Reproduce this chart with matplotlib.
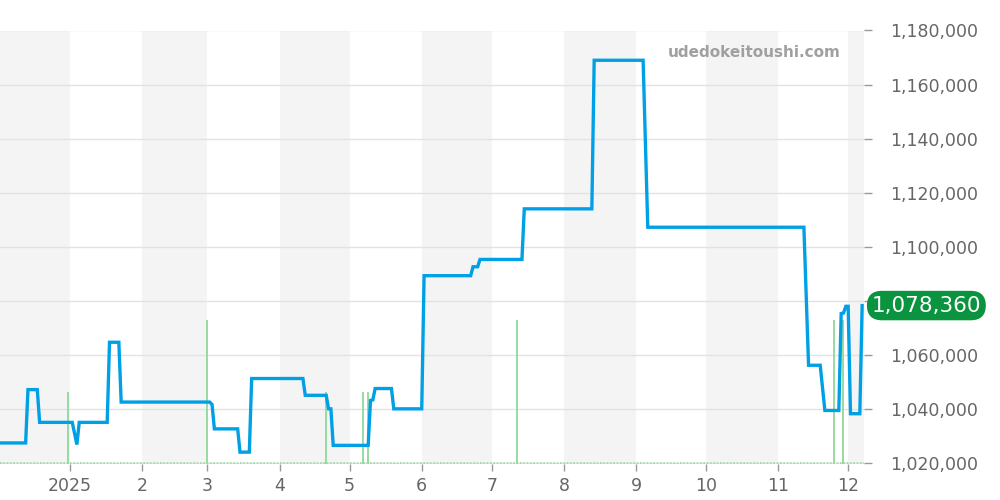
import matplotlib
matplotlib.use("Agg")
import matplotlib.pyplot as plt
import matplotlib.transforms as mtransforms
import numpy as np
import pandas as pd

# ---- data ----
price_dates = [
    "2024-12-02", "2024-12-13", "2024-12-14", "2024-12-18", "2024-12-19",
    "2025-01-02", "2025-01-04", "2025-01-05", "2025-01-17", "2025-01-18",
    "2025-01-22", "2025-01-23", "2025-03-02", "2025-03-03", "2025-03-04",
    "2025-03-14", "2025-03-15", "2025-03-19", "2025-03-20", "2025-04-11",
    "2025-04-12", "2025-04-21", "2025-04-22", "2025-04-23", "2025-04-24",
    "2025-05-09", "2025-05-10", "2025-05-11", "2025-05-12", "2025-05-19",
    "2025-05-20", "2025-06-01", "2025-06-02", "2025-06-22", "2025-06-23",
    "2025-06-25", "2025-06-26", "2025-07-14", "2025-07-15", "2025-08-13",
    "2025-08-14", "2025-09-04", "2025-09-06", "2025-11-12", "2025-11-14",
    "2025-11-19", "2025-11-21", "2025-11-27", "2025-11-28", "2025-11-29",
    "2025-11-30", "2025-12-01", "2025-12-02", "2025-12-06", "2025-12-07",
]
prices = [
    1027600, 1027600, 1047300, 1047300, 1035200,
    1035200, 1027000, 1035200, 1035200, 1064800,
    1064800, 1042700, 1042700, 1041800, 1032800,
    1032800, 1024200, 1024200, 1051400, 1051400,
    1045200, 1045200, 1040200, 1040200, 1026700,
    1026700, 1043300, 1043500, 1047700, 1047700,
    1040200, 1040200, 1089400, 1089400, 1092700,
    1092700, 1095400, 1095400, 1114100, 1114100,
    1169000, 1169000, 1107300, 1107300, 1056300,
    1056300, 1039600, 1039600, 1075400, 1075600,
    1078100, 1078100, 1038400, 1038400, 1078360,
]
volume_dates = ["2024-12-31", "2025-03-01", "2025-04-21", "2025-05-07",
                "2025-05-09", "2025-07-12", "2025-11-25", "2025-11-29"]
volumes = [1, 2, 1, 1, 1, 2, 2, 2]
y_ticks = [1020000, 1040000, 1060000, 1080000, 1100000, 1120000, 1140000, 1160000, 1180000]
last_label = "1,078,360"
last_value = 1078360
watermark = "udedokeitoushi.com"

# ---- figure ----
plt.rcParams['font.family'] = ['DejaVu Sans']
fig = plt.figure(figsize=(10, 5), dpi=100)
ax = fig.add_axes([0.0, 0.073, 0.8635, 0.866])

x_start = pd.Timestamp("2024-12-02")
x_end = pd.Timestamp("2025-12-07 14:00")
ax.set_xlim(x_start, x_end)
ax.set_ylim(1020000, 1180000)

# alternating month bands
months = pd.date_range("2024-12-01", "2026-01-01", freq="MS")
for i in range(len(months) - 1):
    if months[i].month % 2 == 0:
        ax.axvspan(months[i], months[i + 1], color="#f4f4f4", zorder=0, lw=0)

# gridlines
for t in y_ticks:
    ax.axhline(t, color="#e2e2e2", lw=1, zorder=1)

# volume bars (in axes-fraction heights)
trans = ax.get_xaxis_transform()
vmax = 6.05
vd = pd.to_datetime(volume_dates)
ax.vlines(vd, 0, np.array(volumes) / vmax, transform=trans, color="#8fd99a", lw=1.3, zorder=2)
ax.plot([x_start, x_end], [0.002, 0.002], transform=trans, color="#9ed9a5", lw=1.2,
        ls=(0, (1, 1)), zorder=2, clip_on=False)

# price line
pdts = pd.to_datetime(price_dates)
ax.plot(pdts, prices, color="#00a0e6", lw=2.4, zorder=3, solid_joinstyle="miter")

# axes styling
for s in ax.spines.values():
    s.set_visible(False)
ax.yaxis.tick_right()
ax.set_yticks(y_ticks)
# the tick label behind the last-value badge is hidden in the reference
ax.set_yticklabels(["" if abs(v - last_value) < 5000 else f"{v:,}" for v in y_ticks])
ax.tick_params(axis="y", length=6, width=1, color="#999999", labelcolor="#666666",
               labelsize=12.5, pad=13)

month_ticks = pd.date_range("2025-01-01", "2025-12-01", freq="MS")
ax.set_xticks(month_ticks)
ax.set_xticklabels([str(d.year) if d.month == 1 else str(d.month) for d in month_ticks])
ax.tick_params(axis="x", length=5, width=1, color="#999999", labelcolor="#666666",
               labelsize=12.5, pad=5)

# watermark
ax.text(0.973, 0.95, watermark, transform=ax.transAxes, ha="right", va="center",
        fontsize=11, fontweight="bold", color="#a0a0a0", zorder=4)

# last value label
btrans = mtransforms.blended_transform_factory(ax.transAxes, ax.transData)
ax.text(1.0728, last_value, last_label, transform=btrans, ha="center", va="center",
        fontsize=15.5, color="white", zorder=5, clip_on=False,
        bbox=dict(boxstyle="round,pad=0.22,rounding_size=0.7", fc="#0a9440", ec="none"))

fig.savefig("out.png", dpi=100)
